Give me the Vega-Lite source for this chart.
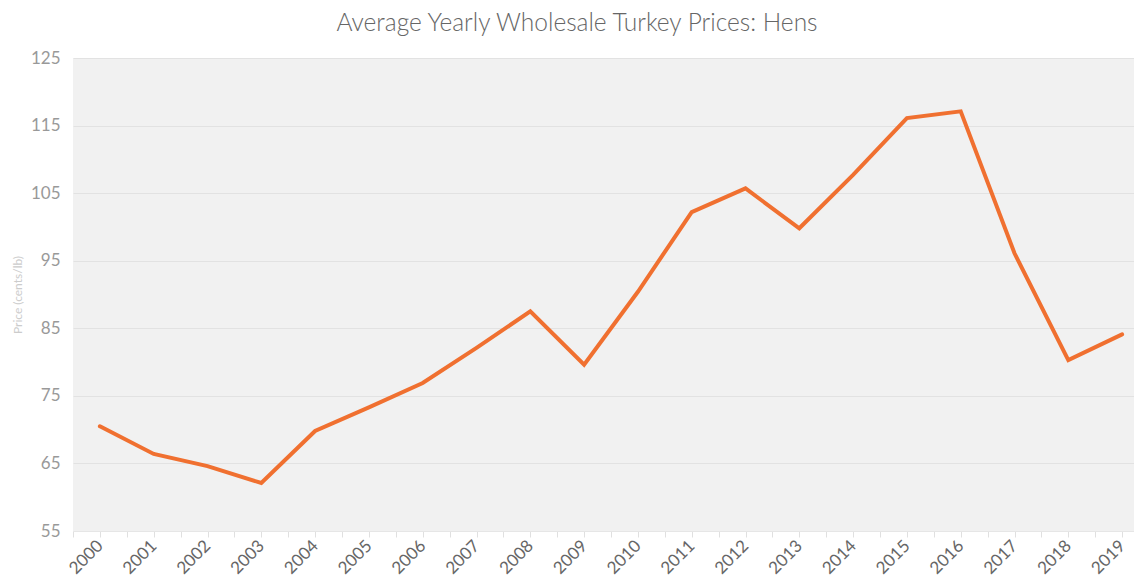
{
  "$schema": "https://vega.github.io/schema/vega-lite/v6.json",
  "width": 1076,
  "height": 473,
  "autosize": {"type": "none"},
  "padding": {"left": 73, "top": 58, "right": 0, "bottom": 51},
  "background": "white",
  "title": {
    "text": "Average Yearly Wholesale Turkey Prices: Hens",
    "font": "Lato",
    "fontSize": 24.5,
    "fontWeight": 300,
    "color": "#666666",
    "anchor": "middle",
    "dx": -34,
    "offset": 13
  },
  "config": {
    "view": {"fill": "#f1f1f1", "stroke": null}
  },
  "data": {
    "values": [
      {"year": 2000, "price": 70.5},
      {"year": 2001, "price": 66.4},
      {"year": 2002, "price": 64.6},
      {"year": 2003, "price": 62.1},
      {"year": 2004, "price": 69.8},
      {"year": 2005, "price": 73.3},
      {"year": 2006, "price": 76.9},
      {"year": 2007, "price": 82.1},
      {"year": 2008, "price": 87.5},
      {"year": 2009, "price": 79.6},
      {"year": 2010, "price": 90.4},
      {"year": 2011, "price": 102.2},
      {"year": 2012, "price": 105.7},
      {"year": 2013, "price": 99.8},
      {"year": 2014, "price": 107.7},
      {"year": 2015, "price": 116.1},
      {"year": 2016, "price": 117.1},
      {"year": 2017, "price": 96.1},
      {"year": 2018, "price": 80.3},
      {"year": 2019, "price": 84.1}
    ]
  },
  "mark": {"type": "line", "color": "#f07030", "strokeWidth": 4, "strokeJoin": "miter", "strokeCap": "round"},
  "encoding": {
    "x": {
      "field": "year",
      "type": "quantitative",
      "scale": {"domain": [1999.5, 2019.5], "nice": false, "zero": false},
      "axis": {
        "title": null,
        "grid": false,
        "values": [1999.5, 2000, 2000.5, 2001, 2001.5, 2002, 2002.5, 2003, 2003.5, 2004, 2004.5, 2005, 2005.5, 2006, 2006.5, 2007, 2007.5, 2008, 2008.5, 2009, 2009.5, 2010, 2010.5, 2011, 2011.5, 2012, 2012.5, 2013, 2013.5, 2014, 2014.5, 2015, 2015.5, 2016, 2016.5, 2017, 2017.5, 2018, 2018.5, 2019, 2019.5],
        "labelExpr": "datum.value % 1 === 0 ? format(datum.value, 'd') : ''",
        "labelAngle": -45,
        "labelAlign": "right",
        "labelBaseline": "middle",
        "labelFont": "Lato",
        "labelFontSize": 17,
        "labelColor": "#666666",
        "labelPadding": 6,
        "domainColor": "#e6e6e6",
        "tickColor": "#e0e0e0",
        "tickSize": 6,
        "labelOverlap": false
      }
    },
    "y": {
      "field": "price",
      "type": "quantitative",
      "scale": {"domain": [55, 125], "nice": false, "zero": false},
      "axis": {
        "title": "Price (cents/lb)",
        "titleFont": "Lato",
        "titleFontSize": 12,
        "titleFontWeight": "normal",
        "titleColor": "#cccccc",
        "titlePadding": 6,
        "values": [55, 65, 75, 85, 95, 105, 115, 125],
        "labelFont": "Lato",
        "labelFontSize": 17,
        "labelColor": "#999999",
        "labelPadding": 13,
        "ticks": false,
        "domain": false,
        "gridColor": "#e2e2e2",
        "gridWidth": 1
      }
    }
  }
}
